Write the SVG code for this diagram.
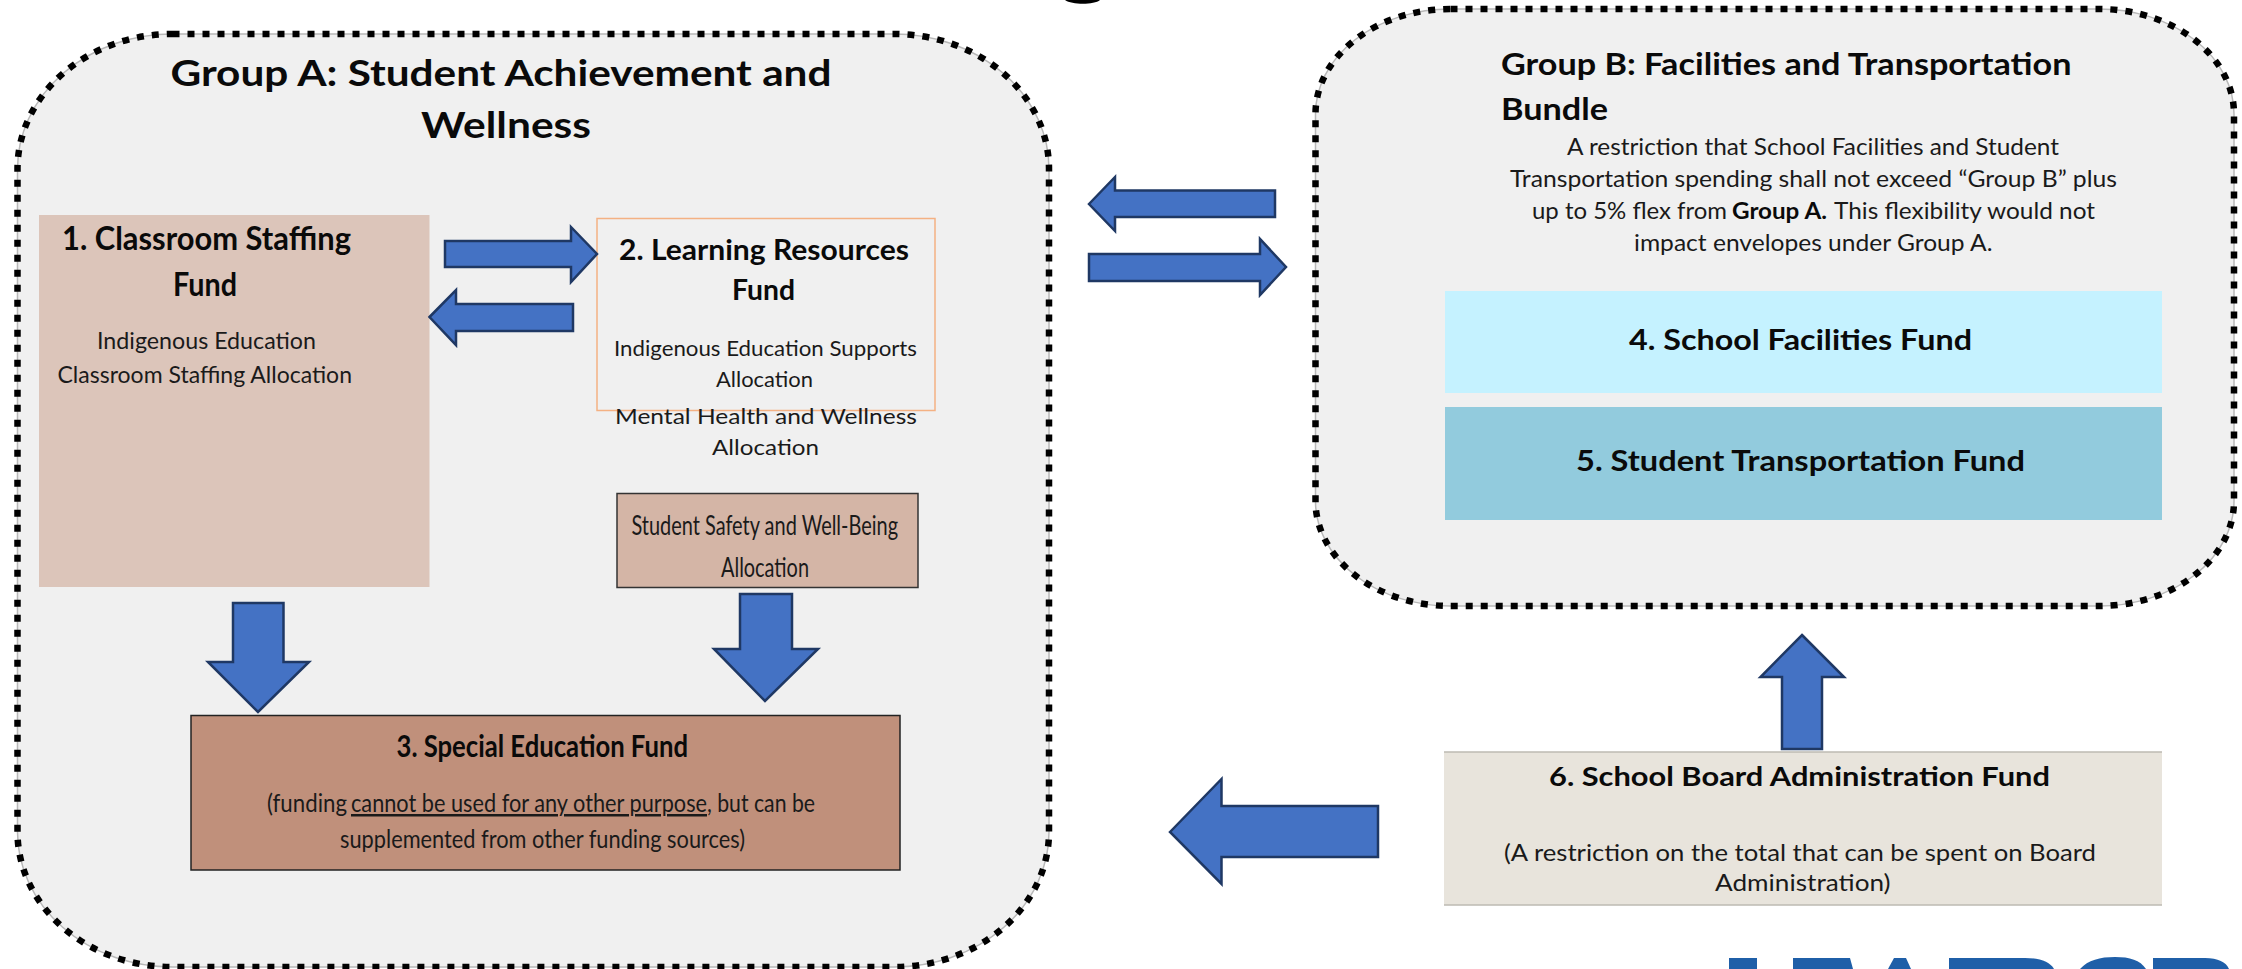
<svg xmlns="http://www.w3.org/2000/svg" width="2242" height="969" viewBox="0 0 2242 969">
<style>
text{font-family:"Lato","Carlito","Liberation Sans",sans-serif;fill:#1a1a1a;lengthAdjust:spacingAndGlyphs}
.b{font-weight:700;fill:#0a0a0a}
.gb{fill:#f0f0f0;stroke:#b8b8b8;stroke-width:1.5}
.gd{fill:none;stroke:#000;stroke-width:6.5;stroke-dasharray:7 8}
.arrow{fill:#4472c4;stroke:#1f3864;stroke-width:2.5;stroke-linejoin:miter}
</style>
<rect width="2242" height="969" fill="#fff"/>
<path id="title-fragment" d="M1065 0H1100C1094 5 1072 5 1065 0Z" fill="#000"/>
<g id="group-a">
<rect class="gb" x="17.5" y="34" width="1031.500" height="933" rx="155" ry="135"/>
<rect class="gd" x="17.5" y="34" width="1031.500" height="933" rx="155" ry="135"/>
<text class="b" font-size="36" x="170.500" y="86" textLength="661" lengthAdjust="spacingAndGlyphs">Group A: Student Achievement and</text>
<text class="b" font-size="36" x="421" y="138" textLength="170" lengthAdjust="spacingAndGlyphs">Wellness</text>
</g>
<g id="fund-1">
<rect x="39" y="215" width="390.500" height="372" fill="#dcc5ba"/>
<text class="b" font-size="32" x="62" y="250" textLength="289" lengthAdjust="spacingAndGlyphs">1. Classroom Staffing</text>
<text class="b" font-size="32" x="173" y="296" textLength="64" lengthAdjust="spacingAndGlyphs">Fund</text>
<text font-size="24" x="97" y="349" textLength="219" lengthAdjust="spacingAndGlyphs">Indigenous Education</text>
<text font-size="24" x="57.500" y="383" textLength="294.500" lengthAdjust="spacingAndGlyphs">Classroom Staffing Allocation</text>
</g>
<g id="fund-2">
<text class="b" font-size="29" x="619" y="260" textLength="290" lengthAdjust="spacingAndGlyphs">2. Learning Resources</text>
<text class="b" font-size="29" x="732" y="300" textLength="63" lengthAdjust="spacingAndGlyphs">Fund</text>
<text font-size="22" x="614" y="356" textLength="303" lengthAdjust="spacingAndGlyphs">Indigenous Education Supports</text>
<text font-size="22" x="716" y="387" textLength="97" lengthAdjust="spacingAndGlyphs">Allocation</text>
<rect x="597" y="218.500" width="338" height="192" fill="none" stroke="#f4b183" stroke-width="1.500"/>
<text font-size="22" x="615" y="424" textLength="302" lengthAdjust="spacingAndGlyphs">Mental Health and Wellness</text>
<text font-size="22" x="712" y="455" textLength="107" lengthAdjust="spacingAndGlyphs">Allocation</text>
</g>
<g id="safety-allocation">
<rect x="617" y="493.500" width="301" height="94" fill="#d4b5a6" stroke="#333" stroke-width="1.500"/>
<text font-size="27" x="631.500" y="535" textLength="266.500" lengthAdjust="spacingAndGlyphs">Student Safety and Well-Being</text>
<text font-size="27" x="721" y="577" textLength="88" lengthAdjust="spacingAndGlyphs">Allocation</text>
</g>
<g id="fund-3">
<rect x="191" y="715.500" width="709" height="154.500" fill="#c0907b" stroke="#222" stroke-width="1.500"/>
<text class="b" font-size="30" x="396.500" y="757" textLength="291.500" lengthAdjust="spacingAndGlyphs">3. Special Education Fund</text>
<text font-size="25" y="812"><tspan x="267" textLength="80" lengthAdjust="spacingAndGlyphs">(funding</tspan><tspan x="351" textLength="356" lengthAdjust="spacingAndGlyphs" text-decoration="underline">cannot be used for any other purpose</tspan><tspan x="707" textLength="108" lengthAdjust="spacingAndGlyphs">, but can be</tspan></text>
<text font-size="25" x="340" y="848" textLength="405" lengthAdjust="spacingAndGlyphs">supplemented from other funding sources)</text>
</g>
<g id="group-b">
<rect class="gb" x="1315.500" y="9" width="918.500" height="597" rx="135" ry="105"/>
<rect class="gd" x="1315.500" y="9" width="918.500" height="597" rx="135" ry="105"/>
<text class="b" font-size="31" x="1501" y="75" textLength="570.500" lengthAdjust="spacingAndGlyphs">Group B: Facilities and Transportation</text>
<text class="b" font-size="31" x="1501" y="120" textLength="107" lengthAdjust="spacingAndGlyphs">Bundle</text>
<text font-size="23" x="1567" y="155" textLength="492" lengthAdjust="spacingAndGlyphs">A restriction that School Facilities and Student</text>
<text font-size="23" x="1510" y="187" textLength="607" lengthAdjust="spacingAndGlyphs">Transportation spending shall not exceed “Group B” plus</text>
<text font-size="23" y="219"><tspan x="1532" textLength="195" lengthAdjust="spacingAndGlyphs">up to 5% flex from</tspan><tspan class="b" x="1732" textLength="95" lengthAdjust="spacingAndGlyphs">Group A.</tspan><tspan x="1834" textLength="261" lengthAdjust="spacingAndGlyphs">This flexibility would not</tspan></text>
<text font-size="23" x="1634" y="251" textLength="358.500" lengthAdjust="spacingAndGlyphs">impact envelopes under Group A.</text>
</g>
<g id="fund-4">
<rect x="1445" y="291" width="717" height="102" fill="#c5f2ff"/>
<text class="b" font-size="28" x="1629" y="350" textLength="343" lengthAdjust="spacingAndGlyphs">4. School Facilities Fund</text>
</g>
<g id="fund-5">
<rect x="1445" y="407" width="717" height="113" fill="#92cbdd"/>
<text class="b" font-size="28" x="1576" y="470.500" textLength="449" lengthAdjust="spacingAndGlyphs">5. Student Transportation Fund</text>
</g>
<g id="fund-6">
<rect x="1444" y="752" width="718" height="153" fill="#e8e4dc"/>
<path d="M1444 752H2162M1444 905H2162" stroke="#bdbab3" stroke-width="1.500" fill="none"/>
<text class="b" font-size="27" x="1549" y="786" textLength="501" lengthAdjust="spacingAndGlyphs">6. School Board Administration Fund</text>
<text font-size="23" x="1504" y="861" textLength="592" lengthAdjust="spacingAndGlyphs">(A restriction on the total that can be spent on Board</text>
<text font-size="23" x="1715" y="891" textLength="175.600" lengthAdjust="spacingAndGlyphs">Administration)</text>
</g>
<g id="connectors">
<path class="arrow" d="M445 241H571V227L597 254L571 282V267H445Z"/>
<path class="arrow" d="M429.500 317L456 290V304H573V331H456V345Z"/>
<path class="arrow" d="M233 603H283.500V662H309L258 712L208 662H233Z"/>
<path class="arrow" d="M740 594H792V649H818L765 701L714 649H740Z"/>
<path class="arrow" d="M1089 204L1115 177V190.500H1275V217H1115V231Z"/>
<path class="arrow" d="M1089 254H1260V239L1286 267L1260 295V281H1089Z"/>
<path class="arrow" d="M1802 635L1844 677H1822V749H1782V677H1760.500Z"/>
<path class="arrow" d="M1170 832L1221.500 779V806H1378V857H1221.500V884Z"/>
</g>
<g id="logo-fragment" fill="#1f5fa8">
<rect x="1729" y="958" width="28" height="11"/>
<path d="M1793 969V958H1850L1853 969Z"/>
<path d="M1888 969L1894 958H1906L1911 969Z"/>
<path d="M1949 969V958H2025C2040 958 2050 962 2054 969Z"/>
<path d="M2080 969C2088 960 2100 957 2115 957C2130 957 2140 960 2146 969Z"/>
<path d="M2153 969V958H2205C2218 958 2226 962 2229 969Z"/>
</g>
</svg>
